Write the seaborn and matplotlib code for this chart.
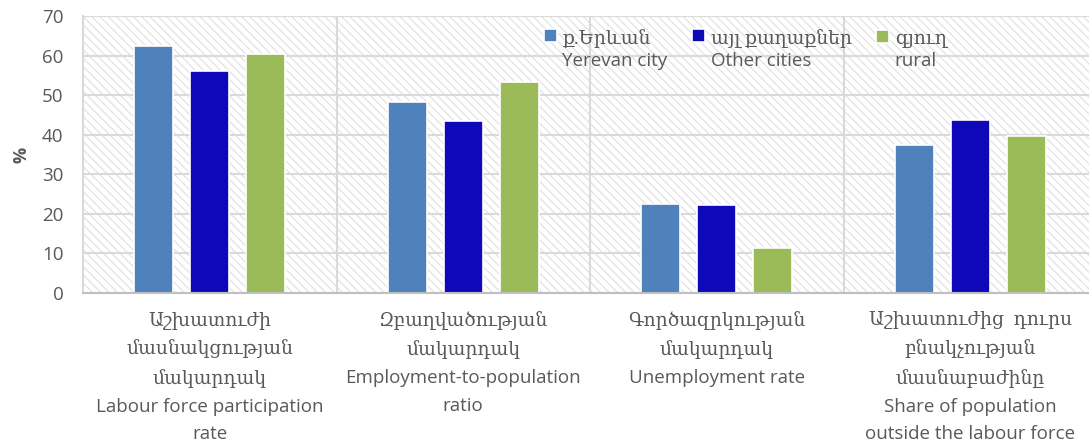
import pandas as pd
import matplotlib.pyplot as plt
import seaborn as sns

sns.set_style("white")
plt.rcParams['font.family'] = ['Open Sans', 'DejaVu Serif']
plt.rcParams['hatch.linewidth'] = 0.8

# data
categories = [
    "Աշխատուժի\nմասնակցության\nմակարդակ\nLabour force participation\nrate",
    "Զբաղվածության\nմակարդակ\nEmployment-to-population\nratio",
    "Գործազրկության\nմակարդակ\nUnemployment rate",
    "Աշխատուժից  դուրս\nբնակչության\nմասնաբաժինը\nShare of population\noutside the labour force",
]
areas = ["ք.Երևան\nYerevan city", "այլ քաղաքներ\nOther cities", "գյուղ\nrural"]
yerevan = [62.5, 48.2, 22.6, 37.3]
other_cities = [56.2, 43.5, 22.3, 43.6]
rural = [60.3, 53.4, 11.3, 39.6]
colors = ['#4F81BD', '#0F08B8', '#9BBB59']

rows = []
for area, vals in zip(areas, [yerevan, other_cities, rural]):
    for cat, v in zip(categories, vals):
        rows.append({'category': cat, 'area': area, 'value': v})
df = pd.DataFrame(rows)

txt = '#595959'
grid = '#d9d9d9'

fig = plt.figure(figsize=(10.89, 4.48), dpi=100)
ax = fig.add_axes([83/1089, 1 - 293/448, (1097 - 83)/1089, (293 - 16)/448])

ax.patch.set_hatch('\\\\\\\\')
ax.patch.set_edgecolor('#e0e0e0')
ax.patch.set_linewidth(0)

sns.barplot(data=df, x='category', y='value', hue='area', palette=colors,
            width=0.66, gap=0.3, edgecolor='white', linewidth=1.2,
            saturation=1, ax=ax)

ax.set_xlim(-0.5, 3.5)
ax.set_ylim(0, 70)
ax.set_yticks(range(0, 71, 10))
ax.set_xticks([0.5, 1.5, 2.5], minor=True)
ax.set_axisbelow(True)
ax.grid(axis='y', which='major', color=grid, linewidth=1.5)
ax.grid(axis='x', which='minor', color=grid, linewidth=1.5)
ax.tick_params(axis='both', which='both', length=0)
ax.tick_params(axis='y', labelsize=13.5, labelcolor=txt, pad=14)
ax.set_xticks(range(len(categories)))
ax.set_xticklabels(categories, fontsize=13.5, color=txt, linespacing=1.7)
ax.tick_params(axis='x', pad=13)
ax.set_xlabel('')
ax.set_ylabel('%', fontsize=13, color=txt, fontweight='bold', labelpad=8)

for s in ['top', 'right']:
    ax.spines[s].set_visible(False)
ax.spines['left'].set_color(grid)
ax.spines['left'].set_linewidth(1.5)
ax.spines['bottom'].set_color('#bfbfbf')
ax.spines['bottom'].set_linewidth(1.5)

handles, _ = ax.get_legend_handles_labels()
leg = ax.legend(handles, areas, ncol=3, loc='upper center',
                bbox_to_anchor=(0.653, 1.015), frameon=False,
                fontsize=13.5, labelcolor=txt, handlelength=0.7,
                handleheight=0.7, handletextpad=0.3, columnspacing=1.3)
for t in leg.get_texts():
    t.set_linespacing(1.3)
for col in leg._legend_handle_box.get_children():
    for row in col.get_children():
        row.align = 'top'

plt.savefig('out.png', dpi=100)
